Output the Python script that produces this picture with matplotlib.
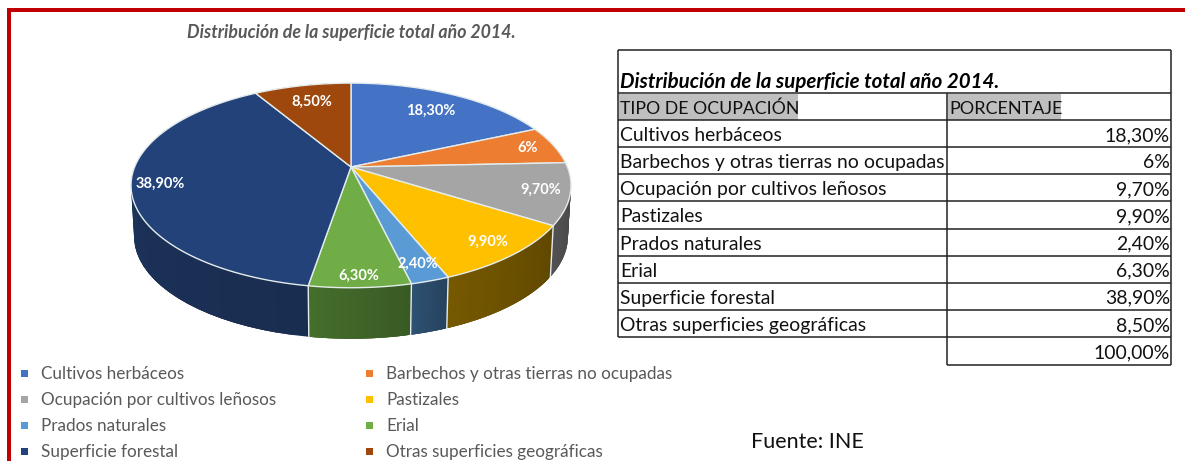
import numpy as np
import matplotlib
matplotlib.use('Agg')
import matplotlib.pyplot as plt
from matplotlib.colors import to_rgb
from matplotlib.patches import Polygon, Rectangle

plt.rcParams['font.family'] = ['Lato', 'DejaVu Sans']

#data
tipos = ['Cultivos herbáceos', 'Barbechos y otras tierras no ocupadas', 'Ocupación por cultivos leñosos',
         'Pastizales', 'Prados naturales', 'Erial', 'Superficie forestal', 'Otras superficies geográficas']
valores = [18.3, 6, 9.7, 9.9, 2.4, 6.3, 38.9, 8.5]
etiquetas = ['18,30%', '6%', '9,70%', '9,90%', '2,40%', '6,30%', '38,90%', '8,50%']
total_txt = '100,00%'
titulo = 'Distribución de la superficie total año 2014.'
cabecera = ['TIPO DE OCUPACIÓN', 'PORCENTAJE']
fuente = 'Fuente: INE'

#colors
colores = ['#4472c4', '#ed7d31', '#a5a5a5', '#ffc000', '#5b9bd5', '#70ad47', '#23427a', '#9e480e']
paredes = ['#2a4a80', '#8a4a1c', '#4a4a4a', '#6b5000', '#2a4a68', '#3f6428', '#1c3259', '#5e2b08']
rojo = '#c00000'
borde = '#e4ecec'

#pie geometry in pixels
cx, cy = 351, 167
a, b, k = 216.4, 99.0, 0.18
alto = 51
label_r = [.75, .87, .87, .87, .87, .92, .87, .78]


def proy(ang, r=1.0, z=0.0):
    # ang clockwise from top, projective disc so the near side looks bigger
    u = r * np.sin(ang)
    v = r * np.cos(ang)
    w = 1 + k * v
    esc = 1 - 0.014 * z
    return cx + a * u / w * esc, cy - b * v / w + alto * z


fig = plt.figure(figsize=(11.85, 4.61), dpi=100)
ax = fig.add_axes([0, 0, 1, 1])
ax.set_xlim(0, 1185)
ax.set_ylim(461, 0)
ax.axis('off')

#frame
ax.add_patch(Rectangle((7, 8), 1178, 4, color=rojo, lw=0))
ax.add_patch(Rectangle((7, 8), 4, 453, color=rojo, lw=0))

ax.text(351, 32.5, titulo, ha='center', va='center', fontsize=12.8, color='#595959', style='italic', weight='bold')

#walls as strips that overlap the next one, so no seams show
cum = np.concatenate([[0], np.cumsum(valores)]) / sum(valores) * 2 * np.pi
for i in range(len(valores)):
    t = np.linspace(cum[i], cum[i + 1], 40)
    base = np.array(to_rgb(paredes[i]))
    for j in range(len(t) - 1):
        col = np.clip(base * (0.9 + 0.2 * j / (len(t) - 2)), 0, 1)
        tt = t[j:j + 4]
        x1, y1 = proy(tt)
        x2, y2 = proy(tt[::-1], z=1.0)
        ax.add_patch(Polygon(np.c_[np.r_[x1, x2], np.r_[y1, y2]], fc=col, ec='none', lw=0))

#light lines between the walls, only on the near side
for ang in cum[1:-1]:
    if np.cos(ang) < -k:
        x1, y1 = proy(ang)
        x2, y2 = proy(ang, z=1.0)
        ax.plot([x1, x2], [y1, y2], color=borde, lw=1.0)

#top
for i in range(len(valores)):
    t = np.linspace(cum[i], cum[i + 1], 80)
    x1, y1 = proy(t)
    ax.add_patch(Polygon(np.c_[np.r_[cx, x1], np.r_[cy, y1]], fc=colores[i], ec=borde, lw=1.0, joinstyle='round'))

for i, txt in enumerate(etiquetas):
    m = (cum[i] + cum[i + 1]) / 2
    x, y = proy(m, label_r[i])
    ax.text(x, y, txt, ha='center', va='center', fontsize=10.5, color='white', weight='bold')

#legend
ley_x = [27, 372]
ley_y = [373, 399, 425, 451]
for i, nom in enumerate(tipos):
    x = ley_x[i % 2]
    y = ley_y[i // 2]
    ax.add_patch(Rectangle((x - 6, y - 3.5), 7, 7, color=colores[i], lw=0))
    ax.text(x + 14, y + 1, nom, ha='left', va='center', fontsize=12.3, color='#595959')

#table
xl, xm, xr = 618, 947, 1171
filas_y = np.linspace(120, 337, 9)
ax.add_patch(Rectangle((xl + 1, 94), 179, 26, color='#bfbfbf', lw=0))
ax.add_patch(Rectangle((xm + 1, 94), 113, 26, color='#bfbfbf', lw=0))
ln = dict(color='#222222', lw=1.1, solid_capstyle='butt')
ax.plot([xl, xr], [50, 50], **ln)
ax.plot([xl, xl], [50, 337], **ln)
ax.plot([xr, xr], [50, 365], **ln)
ax.plot([xm, xm], [93, 365], **ln)
ax.plot([xl, xr], [93, 93], **ln)
for y in filas_y:
    ax.plot([xl, xr], [y, y], **ln)
ax.plot([xm, xr], [365, 365], **ln)

ax.text(xl + 2, 82.5, titulo, ha='left', va='center', fontsize=14.8, style='italic', weight='bold', color='black')
ax.text(xl + 2, 109, cabecera[0], ha='left', va='center', fontsize=12.7, color='#111111')
ax.text(xm + 2, 109, cabecera[1], ha='left', va='center', fontsize=13, color='#111111')
for i, nom in enumerate(tipos):
    y = filas_y[i] + 15.5
    ax.text(xl + 2, y, nom, ha='left', va='center', fontsize=13.95, color='#111111')
    ax.text(xr - 1, y, etiquetas[i], ha='right', va='center', fontsize=13.95, color='#111111')
ax.text(xr - 1, 352.5, total_txt, ha='right', va='center', fontsize=13.95, color='#111111')

ax.text(807, 442, fuente, ha='center', va='center', fontsize=15.5, color='#111111')

fig.savefig('out.png', dpi=100)
